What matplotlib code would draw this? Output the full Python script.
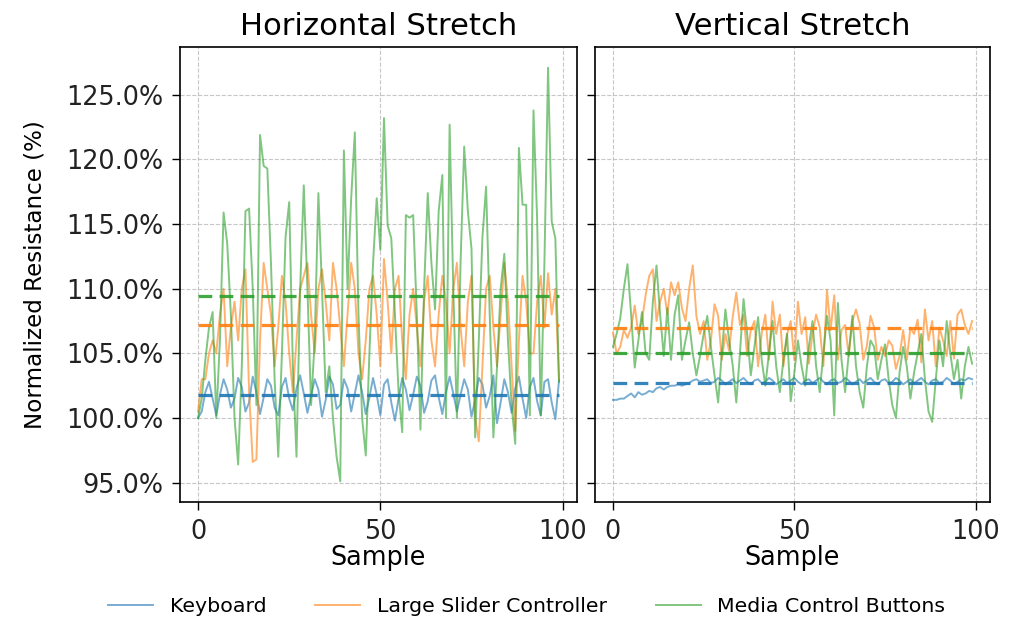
import numpy as np
import matplotlib
matplotlib.use("Agg")
import matplotlib.pyplot as plt
import matplotlib.ticker as mticker

titles = ["Horizontal Stretch", "Vertical Stretch"]
series_names = ["Keyboard", "Large Slider Controller", "Media Control Buttons"]
colors = ["#1f77b4", "#ff7f0e", "#2ca02c"]
xticks = [0, 50, 100]

# Horizontal stretch
kb_h = [100.0, 100.5, 102.0, 102.8, 101.5, 100.2, 101.8, 103.0, 102.2, 100.8,
        101.5, 103.1, 102.4, 100.5, 101.2, 103.2, 102.0, 100.3, 101.6, 103.0,
        102.5, 100.8, 100.2, 102.4, 103.1, 101.5, 100.6, 102.3, 103.3, 101.9,
        100.4, 101.7, 103.0, 102.2, 100.1, 101.4, 103.2, 102.6, 100.7, 101.0,
        103.0, 102.3, 100.5, 101.9, 103.3, 102.0, 100.3, 101.6, 103.1, 101.8,
        100.2, 102.6, 103.0, 101.2, 99.8, 101.5, 103.1, 102.2, 100.6, 101.8,
        103.2, 102.5, 100.4, 101.3, 102.9, 103.3, 101.6, 100.3, 102.0, 103.2,
        101.9, 100.5, 101.8, 103.0, 102.2, 100.1, 101.4, 103.1, 102.6, 100.8,
        101.7, 103.3, 99.6, 101.2, 103.0, 102.0, 100.4, 102.3, 103.2, 101.5,
        100.0, 102.4, 103.1, 101.3, 100.2, 102.8, 103.0, 101.2, 99.9, 102.9]
sl_h = [100.5, 103.0, 103.0, 105.0, 106.0, 105.0, 108.0, 110.0, 104.0, 107.0,
        109.0, 106.0, 110.0, 111.5, 102.0, 96.6, 96.8, 106.0, 112.0, 110.0,
        108.0, 104.0, 107.0, 111.0, 109.0, 105.0, 102.0, 106.0, 110.0, 111.0,
        112.0, 108.0, 105.0, 110.0, 111.5, 109.0, 106.0, 112.0, 110.0, 107.0,
        104.0, 108.0, 112.0, 110.0, 105.0, 103.0, 106.0, 110.0, 111.0, 108.0,
        104.0, 112.3, 109.0, 105.0, 110.0, 111.0, 106.0, 103.0, 108.0, 110.0,
        107.0, 104.0, 109.0, 111.0, 106.0, 104.0, 108.0, 111.0, 109.0, 105.0,
        110.0, 112.0, 107.0, 104.0, 109.0, 111.0, 100.0, 98.2, 104.0, 110.0,
        111.0, 107.0, 104.0, 108.0, 112.0, 109.0, 104.0, 99.0, 106.0, 111.0,
        109.0, 105.0, 105.0, 109.0, 111.0, 107.0, 111.2, 108.0, 110.0, 103.0]
mc_h = [100.0, 101.5, 104.5, 107.0, 108.2, 100.0, 106.0, 115.9, 113.5, 108.0,
        100.0, 96.4, 104.0, 116.0, 116.2, 110.0, 101.0, 121.9, 119.5, 119.3,
        112.0, 103.0, 97.0, 105.0, 114.0, 116.7, 104.0, 97.0, 110.0, 118.0,
        110.0, 101.0, 106.0, 117.4, 110.0, 102.0, 104.0, 100.0, 97.0, 95.1,
        120.7, 110.0, 117.0, 122.1, 108.0, 100.0, 97.1, 105.0, 112.0, 117.0,
        113.0, 123.2, 114.9, 113.9, 108.0, 102.0, 98.9, 115.7, 115.5, 115.7,
        108.0, 99.1, 110.0, 117.4, 112.0, 108.4, 116.0, 118.8, 100.0, 122.7,
        110.0, 100.0, 112.0, 121.0, 116.0, 113.1, 98.5, 106.0, 114.0, 117.9,
        108.0, 98.5, 104.0, 110.0, 112.7, 106.0, 101.0, 98.0, 120.9, 116.5,
        116.5, 100.2, 123.8, 115.4, 100.2, 112.0, 127.1, 115.2, 113.9, 102.8]

# Vertical stretch
kb_v = [101.4, 101.4, 101.5, 101.5, 101.7, 101.9, 101.6, 102.0, 101.8, 101.9,
        102.1, 102.0, 102.3, 102.4, 102.2, 102.4, 102.5, 102.5, 102.6, 102.5,
        102.6, 102.7, 102.9, 103.0, 102.8, 102.9, 103.0, 102.7, 102.8, 103.1,
        102.9, 102.6, 102.8, 103.0, 102.7, 102.9, 103.1, 102.8, 102.6, 102.9,
        103.0, 102.7, 102.8, 103.1, 102.9, 102.6, 102.8, 103.0, 102.7, 102.9,
        103.1, 102.8, 102.6, 102.9, 103.0, 102.7, 102.9, 103.1, 102.8, 102.6,
        102.9, 103.0, 102.7, 102.8, 103.1, 102.9, 102.6, 102.8, 103.0, 102.7,
        102.9, 103.1, 102.8, 102.6, 102.9, 103.0, 102.7, 102.8, 103.1, 102.9,
        102.6, 102.8, 103.0, 102.7, 102.9, 103.1, 102.8, 102.6, 102.9, 103.0,
        102.7, 102.8, 103.1, 102.9, 102.6, 102.8, 103.0, 102.9, 103.1, 103.0]
sl_v = [106.6, 105.0, 105.5, 106.8, 106.2, 107.0, 108.7, 106.5, 107.5, 109.5,
        111.0, 111.5, 107.5, 109.0, 110.0, 108.0, 110.5, 109.5, 110.5, 108.5,
        107.5, 110.0, 111.8, 107.9, 106.5, 107.5, 104.5, 106.0, 108.8, 107.9,
        104.5, 106.5, 105.2, 107.8, 109.7, 107.2, 108.0, 104.8, 106.8, 107.5,
        104.0, 106.5, 108.0, 104.5, 109.0, 106.5, 108.0, 104.0, 106.5, 107.5,
        104.5, 109.0, 106.5, 107.8, 104.2, 106.5, 108.0, 107.0, 104.0, 109.9,
        106.8, 109.5, 104.5, 106.8, 107.2, 104.8, 107.5, 108.4, 107.3, 104.5,
        105.6, 107.9, 107.0, 104.5, 105.5, 104.8, 106.0, 105.6, 103.8, 104.8,
        106.8, 104.5, 107.0, 106.5, 107.6, 104.3, 108.4, 106.0, 107.5, 104.0,
        107.0, 106.0, 104.8, 107.5, 104.6, 108.0, 108.4, 107.2, 106.5, 107.5]
mc_v = [105.5, 106.5, 107.7, 110.0, 111.9, 108.0, 103.9, 106.0, 108.2, 105.0,
        104.5, 109.0, 111.8, 108.0, 104.8, 108.5, 104.5, 108.0, 109.5, 104.5,
        106.0, 107.4, 105.0, 103.3, 104.8, 106.5, 107.9, 105.5, 103.3, 101.2,
        105.0, 108.4, 106.0, 104.1, 101.2, 105.0, 109.2, 106.5, 103.3, 105.5,
        107.8, 104.5, 102.5, 105.0, 107.5, 104.0, 102.0, 104.5, 106.5, 101.3,
        103.5, 106.0, 104.0, 102.5, 105.5, 107.5, 104.0, 102.0, 105.0, 107.9,
        106.0, 100.2, 108.9, 104.5, 102.0, 105.0, 107.9, 104.0, 102.0, 100.8,
        104.0, 106.0, 105.5, 103.0, 104.5, 105.7, 103.0, 101.0, 100.0, 103.5,
        105.5, 104.0, 101.5, 103.5, 105.0, 106.5, 103.0, 100.5, 99.7, 103.0,
        106.0, 104.0, 107.5, 105.0, 103.0, 104.5, 101.5, 104.0, 105.5, 104.2]

panels = [[kb_h, sl_h, mc_h], [kb_v, sl_v, mc_v]]

S = 1.84
fig = plt.figure(figsize=(10.09, 6.19), dpi=100)
ax1 = fig.add_axes([0.1784, 0.189, 0.3935, 0.735])
ax2 = fig.add_axes([0.5897, 0.189, 0.3915, 0.735], sharey=ax1)
axes = [ax1, ax2]

handles = []
for i, ax in enumerate(axes):
    for j, ys in enumerate(panels[i]):
        xs = np.arange(len(ys))
        ln, = ax.plot(xs, ys, color=colors[j], alpha=0.6, lw=1.4,
                      label=series_names[j])
        if i == 0:
            handles.append(ln)
    for j, ys in enumerate(panels[i]):
        m = float(np.mean(ys))
        ax.plot([0, len(ys) - 1], [m, m], color=colors[j], lw=2.3,
                dashes=(4.3, 2.3), alpha=0.9)
    ax.set_title(titles[i], fontsize=12 * S, pad=9)
    ax.set_xlabel("Sample", fontsize=10 * S, labelpad=0)
    ax.set_xticks(xticks)
    ax.grid(True, linestyle="--", color="#b0b0b0", lw=0.8, alpha=0.7)
    ax.tick_params(labelsize=10 * S, length=6, width=1.0, pad=6,
                   labelcolor="#222222")
    for sp in ax.spines.values():
        sp.set_linewidth(1.2)

ax1.yaxis.set_major_formatter(mticker.PercentFormatter(xmax=100, decimals=1))
ax1.set_ylabel("Normalized Resistance (%)", fontsize=9 * S, labelpad=14)
plt.setp(ax2.get_yticklabels(), visible=False)

fig.legend(handles=handles, labels=series_names, loc="center",
           bbox_to_anchor=(0.522, 0.02), ncol=3, frameon=False,
           fontsize=8 * S, handlelength=2.2, columnspacing=2.4)

fig.savefig("out.png", dpi=100)
